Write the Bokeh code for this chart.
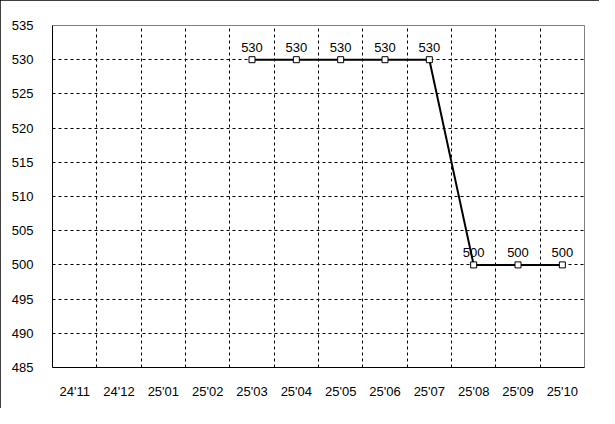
from bokeh.plotting import figure
from bokeh.models import FixedTicker, ColumnDataSource, LabelSet, Range1d
from bokeh.core.properties import value
from bokeh.embed import file_html
from bokeh.resources import INLINE

months = ["24'11", "24'12", "25'01", "25'02", "25'03", "25'04",
          "25'05", "25'06", "25'07", "25'08", "25'09", "25'10"]
values = [None, None, None, None, 530, 530, 530, 530, 530, 500, 500, 500]
y_ticks = [485, 490, 495, 500, 505, 510, 515, 520, 525, 530, 535]

FONT = "Liberation Sans"

xs = [i + 0.5 for i, v in enumerate(values) if v is not None]
ys = [v for v in values if v is not None]
src = ColumnDataSource(dict(x=xs, y=ys, t=[str(v) for v in ys]))

p = figure(width=599, height=408, output_backend="svg", toolbar_location=None,
           x_range=Range1d(0, len(months)), y_range=Range1d(485, 535),
           min_border_left=52, min_border_right=15, min_border_top=25,
           min_border_bottom=41)
p.styles = {"outline": "1px solid black", "outline-offset": "-1px"}
p.background_fill_color = "white"
p.border_fill_color = "white"
p.outline_line_color = "#808080"
p.outline_line_width = 1

p.xaxis.ticker = FixedTicker(ticks=[i + 0.5 for i in range(len(months))])
p.xaxis.major_label_overrides = {i + 0.5: m for i, m in enumerate(months)}
p.yaxis.ticker = FixedTicker(ticks=y_ticks)
for ax in (p.xaxis, p.yaxis):
    ax.major_tick_line_color = None
    ax.minor_tick_line_color = None
    ax.axis_line_color = "black"
    ax.axis_line_width = 1
    ax.major_label_text_font = FONT
    ax.major_label_text_font_size = "13px"
    ax.major_label_text_color = "black"
p.yaxis.major_label_standoff = 13
p.xaxis.major_label_standoff = 10

p.xgrid.ticker = FixedTicker(ticks=list(range(1, len(months))))
p.ygrid.ticker = FixedTicker(ticks=y_ticks[1:-1])
for g in (p.xgrid, p.ygrid):
    g.grid_line_color = "black"
    g.grid_line_dash = "3 3"
    g.grid_line_width = 1

p.line("x", "y", source=src, line_color="black", line_width=2)
p.scatter("x", "y", source=src, marker="square", size=6,
          fill_color="white", line_color="black", line_width=1)

labels = LabelSet(x="x", y="y", text="t", source=src, text_align="center",
                  text_baseline="bottom", y_offset=8, text_font=value(FONT),
                  text_font_size=value("13px"), text_color="black")
p.add_layout(labels)

open("out.html", "w").write(file_html(p, INLINE))
